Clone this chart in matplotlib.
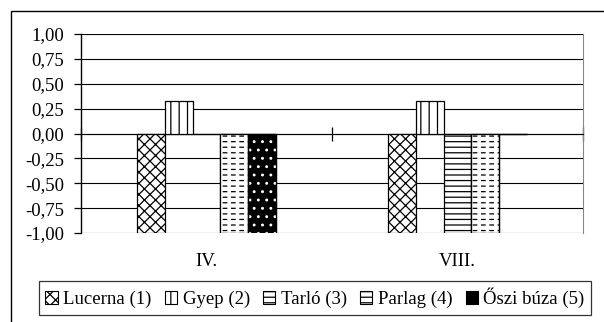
import numpy as np
import matplotlib.pyplot as plt
from matplotlib.patches import Patch, Rectangle
from matplotlib.ticker import FuncFormatter

plt.rcParams['font.family'] = ['Liberation Serif', 'DejaVu Serif']
plt.rcParams['hatch.linewidth'] = 0.9

months = ['IV.', 'VIII.']
series = ['Lucerna (1)', 'Gyep (2)', 'Tarló (3)', 'Parlag (4)', 'Őszi búza (5)']
lucerna = [-1.00, -1.00]
gyep = [0.33, 0.33]
tarlo = [0.00, -1.00]
parlag = [-1.00, -1.00]
oszi_buza = [-1.00, 0.00]
values = [lucerna, gyep, tarlo, parlag, oszi_buza]
yticks = [-1.0, -0.75, -0.5, -0.25, 0.0, 0.25, 0.5, 0.75, 1.0]

fig = plt.figure(figsize=(6.04, 3.22), dpi=100)
ax = fig.add_axes([81/604, 1-233/322, (583-81)/604, (233-34)/322])

x = np.arange(len(months)) + 0.5
w = 0.11
styles = [
    dict(facecolor='white', hatch='xxx'),
    dict(facecolor='white', hatch='||'),
    dict(facecolor='white', hatch='---'),
    dict(facecolor='white', hatch='---'),
    dict(facecolor='black', hatch=None),
]

for i, (vals, st) in enumerate(zip(values, styles)):
    pos = x + (i - 2) * w
    ax.bar(pos, vals, w, color=st['facecolor'], hatch=st['hatch'],
           edgecolor='black', linewidth=0.9, zorder=3)
    if i == 3:
        # break the lines into dashes
        with plt.rc_context({'hatch.linewidth': 2.6}):
            ax.bar(pos, vals, w, color='none', hatch='||', edgecolor='white',
                   linewidth=0, zorder=4)
        ax.bar(pos, vals, w, color='none', edgecolor='black', linewidth=0.9, zorder=5)
    if i == 4:
        ax.bar(pos, vals, w, color='none', hatch='..', edgecolor='white',
               linewidth=0, zorder=4)
        ax.bar(pos, vals, w, color='none', edgecolor='black', linewidth=0.9, zorder=5)

ax.set_xlim(0, 2)
ax.set_ylim(-1, 1)
ax.set_yticks(yticks)
ax.yaxis.set_major_formatter(FuncFormatter(lambda v, p: f'{v:.2f}'.replace('.', ',')))
ax.tick_params(axis='y', length=5, width=0.9, pad=7, labelsize=13.5, direction='out')
ax.grid(axis='y', color='black', linewidth=0.8, zorder=0)

ax.spines['top'].set_visible(False)
ax.spines['right'].set_color('#888888')
ax.spines['left'].set_linewidth(1.0)
ax.spines['bottom'].set_position(('data', 0))
ax.spines['bottom'].set_linewidth(0.8)
ax.set_xticks([0, 1, 2])
ax.tick_params(axis='x', direction='inout', length=10, width=0.9, labelbottom=False)

for xi, m in zip(x, months):
    ax.text(xi, -1.29, m, ha='center', va='center', fontsize=13.5)

handles = [Patch(facecolor=st['facecolor'], edgecolor='black', hatch=st['hatch'],
                 linewidth=0.8) for st in styles]
leg = fig.legend(handles, series, loc='center', bbox_to_anchor=(315/604, 1-298/322),
                 ncol=5, fontsize=13.5, frameon=True, fancybox=False, edgecolor='black',
                 handlelength=0.65, handleheight=0.65, handletextpad=0.3,
                 columnspacing=0.7, borderpad=0.35, borderaxespad=0)
leg.get_frame().set_linewidth(0.9)

fig.patches.append(Rectangle((11/604, -0.5), 1.5, 1-11/322+0.5, transform=fig.transFigure,
                             fill=False, edgecolor='black', linewidth=1.0))

fig.savefig('out.png', dpi=100)
